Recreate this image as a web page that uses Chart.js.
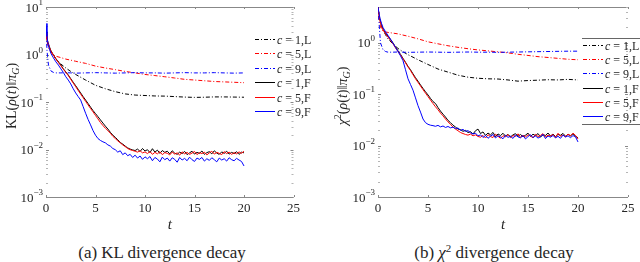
<!DOCTYPE html>
<html>
<head>
<meta charset="utf-8">
<script src="https://cdn.jsdelivr.net/npm/chart.js@4"></script>
<style>
  body { margin:0; background:#fff; width:640px; height:262px; position:relative; overflow:hidden; font-family:"Liberation Serif", serif; color:#262626; }
  canvas { position:absolute; top:0; }
  #c1 { left:0; }
  #c2 { left:320px; }
  .cap { position:absolute; top:242px; height:22px; font-size:17px; line-height:22px; text-align:center; white-space:nowrap; }
  .cap .sup { font-size:11px; position:relative; top:-6px; }
</style>
</head>
<body>
<canvas id="c1" width="320" height="236"></canvas>
<canvas id="c2" width="320" height="236"></canvas>
<div class="cap" style="left:42px;width:240px">(a) KL divergence decay</div>
<div class="cap" style="left:374px;width:240px">(b) <i>χ</i><span class="sup">2</span> divergence decay</div>
<script>
// time grids
const tL = [0, 0.1, 0.25, 0.5, 0.75, 1, 1.5, 2, 2.5, 3, 4, 5, 6, 7, 8, 9, 10, 11, 12, 13, 14, 15, 16, 17, 18, 19, 20];
const tF = [0, 0.1, 0.2, 0.35, 0.5, 0.75, 1, 1.25, 1.5, 1.75, 2, 2.25, 2.5, 2.75, 3, 3.25, 3.5, 3.75, 4, 4.25, 4.5, 4.75,
  5, 5.25, 5.5, 5.75, 6, 6.25, 6.5, 6.75, 7, 7.25, 7.5, 7.75, 8, 8.25, 8.5, 8.75, 9, 9.25, 9.5, 9.75,
  10, 10.25, 10.5, 10.75, 11, 11.25, 11.5, 11.75, 12, 12.25, 12.5, 12.75, 13, 13.25, 13.5, 13.75, 14, 14.25, 14.5, 14.75,
  15, 15.25, 15.5, 15.75, 16, 16.25, 16.5, 16.75, 17, 17.25, 17.5, 17.75, 18, 18.25, 18.5, 18.75, 19, 19.25, 19.5, 19.75, 20];
const xTicks = [0, 5, 10, 15, 20, 25];

// (a) KL divergence
const klL1 = [3.0, 2.0, 1.5, 1.15, 0.95, 0.8, 0.63, 0.52, 0.44, 0.38, 0.29, 0.225, 0.19, 0.165, 0.148, 0.14, 0.137, 0.134, 0.133, 0.13, 0.127, 0.125, 0.126, 0.128, 0.128, 0.127, 0.126];
const klL5 = [2.8, 1.9, 1.4, 1.1, 0.98, 0.92, 0.86, 0.8, 0.76, 0.72, 0.65, 0.57, 0.52, 0.48, 0.44, 0.41, 0.38, 0.36, 0.34, 0.32, 0.3, 0.29, 0.28, 0.27, 0.265, 0.26, 0.255];
const klL9 = [4.0, 1.2, 0.6, 0.45, 0.42, 0.41, 0.41, 0.415, 0.41, 0.405, 0.41, 0.415, 0.41, 0.405, 0.41, 0.415, 0.41, 0.41, 0.405, 0.41, 0.415, 0.41, 0.41, 0.415, 0.41, 0.405, 0.41];
const klF1 = [3.0, 2.2, 1.8, 1.45, 1.2, 0.98, 0.82, 0.7, 0.6, 0.5, 0.43, 0.37, 0.31, 0.26, 0.22, 0.185, 0.155, 0.13, 0.11, 0.093, 0.078, 0.066,
  0.057, 0.049, 0.042, 0.036, 0.031, 0.027, 0.023, 0.02, 0.018, 0.016, 0.014, 0.013, 0.0118, 0.0108, 0.0102, 0.0098, 0.0095, 0.0102, 0.0091, 0.0105,
  0.0093, 0.0099, 0.0086, 0.0104, 0.0088, 0.0097, 0.0083, 0.0095, 0.0087, 0.0092, 0.0081, 0.0094, 0.0084, 0.0079, 0.0088, 0.0082, 0.0091, 0.0078, 0.0085, 0.0092,
  0.008, 0.0087, 0.0083, 0.0093, 0.0079, 0.0086, 0.009, 0.0081, 0.0094, 0.0084, 0.0079, 0.0089, 0.0083, 0.0092, 0.008, 0.0087, 0.0082, 0.009, 0.0079, 0.0088, 0.0085];
const klF5 = [2.8, 2.1, 1.75, 1.4, 1.18, 0.97, 0.8, 0.68, 0.58, 0.49, 0.42, 0.36, 0.3, 0.25, 0.21, 0.175, 0.147, 0.123, 0.103, 0.087, 0.073, 0.062,
  0.052, 0.044, 0.037, 0.032, 0.028, 0.025, 0.022, 0.019, 0.017, 0.0152, 0.0138, 0.0125, 0.0115, 0.0105, 0.0099, 0.0095, 0.0092, 0.0088, 0.0094, 0.0085,
  0.0089, 0.0082, 0.0091, 0.0079, 0.0087, 0.0081, 0.009, 0.0078, 0.0086, 0.0083, 0.0077, 0.0088, 0.008, 0.0085, 0.0076, 0.0089, 0.0081, 0.0087, 0.0079, 0.0084,
  0.0091, 0.0078, 0.0086, 0.0082, 0.0088, 0.0077, 0.0085, 0.0092, 0.008, 0.0087, 0.0083, 0.0078, 0.009, 0.0082, 0.0088, 0.0079, 0.0086, 0.0081, 0.0089, 0.0083, 0.0092];
const klF9 = [4.5, 2.4, 1.7, 1.3, 1.05, 0.85, 0.7, 0.6, 0.5, 0.42, 0.34, 0.29, 0.24, 0.19, 0.155, 0.13, 0.11, 0.08, 0.058, 0.043, 0.033, 0.025,
  0.02, 0.017, 0.0155, 0.0145, 0.0138, 0.0125, 0.0118, 0.0105, 0.0099, 0.0088, 0.0094, 0.0078, 0.0085, 0.0074, 0.0079, 0.0068, 0.0076, 0.0066, 0.0073, 0.0062,
  0.007, 0.0064, 0.0071, 0.0058, 0.0068, 0.0063, 0.0055, 0.0069, 0.0061, 0.0066, 0.0057, 0.0067, 0.0062, 0.0054, 0.0068, 0.006, 0.0065, 0.0058, 0.0069, 0.0061,
  0.0056, 0.0066, 0.0062, 0.0068, 0.0057, 0.0064, 0.0059, 0.0067, 0.0061, 0.0055, 0.0066, 0.006, 0.0064, 0.0057, 0.0067, 0.0061, 0.0058, 0.0065, 0.006, 0.0056, 0.0045];

// (b) chi^2 divergence
const chL1 = [5.0, 3.3, 2.4, 1.8, 1.45, 1.2, 0.95, 0.78, 0.67, 0.59, 0.47, 0.38, 0.31, 0.27, 0.235, 0.215, 0.205, 0.2, 0.198, 0.19, 0.18, 0.185, 0.188, 0.192, 0.19, 0.195, 0.19];
const chL5 = [5.0, 3.0, 2.0, 1.7, 1.64, 1.6, 1.55, 1.5, 1.42, 1.35, 1.2, 1.05, 0.96, 0.88, 0.82, 0.77, 0.73, 0.7, 0.67, 0.64, 0.6, 0.57, 0.54, 0.52, 0.5, 0.48, 0.47];
const chL9 = [5.0, 2.5, 1.0, 0.74, 0.68, 0.66, 0.66, 0.665, 0.66, 0.655, 0.66, 0.665, 0.66, 0.655, 0.66, 0.665, 0.66, 0.66, 0.655, 0.66, 0.665, 0.67, 0.675, 0.68, 0.685, 0.69, 0.69];
const chF1 = [5.0, 3.6, 2.8, 2.2, 1.85, 1.55, 1.35, 1.17, 1.0, 0.83, 0.7, 0.6, 0.5, 0.42, 0.35, 0.3, 0.25, 0.21, 0.18, 0.152, 0.13, 0.112,
  0.097, 0.083, 0.072, 0.066, 0.055, 0.047, 0.041, 0.036, 0.031, 0.028, 0.025, 0.023, 0.021, 0.0205, 0.019, 0.0198, 0.018, 0.0187, 0.0168, 0.0195,
  0.021, 0.0172, 0.0185, 0.0158, 0.0176, 0.0162, 0.0181, 0.015, 0.0169, 0.0157, 0.0174, 0.0153, 0.0166, 0.0148, 0.0162, 0.0171, 0.0152, 0.0165, 0.0149, 0.016,
  0.0175, 0.0151, 0.0167, 0.0156, 0.0172, 0.0147, 0.0163, 0.0158, 0.0176, 0.0154, 0.0168, 0.015, 0.0165, 0.0159, 0.0173, 0.0152, 0.0166, 0.0155, 0.017, 0.0153, 0.0142];
const chF5 = [5.0, 3.4, 2.7, 2.1, 1.8, 1.5, 1.3, 1.12, 0.96, 0.8, 0.68, 0.58, 0.49, 0.41, 0.34, 0.29, 0.24, 0.2, 0.17, 0.145, 0.123, 0.105,
  0.09, 0.077, 0.066, 0.057, 0.05, 0.043, 0.038, 0.033, 0.029, 0.026, 0.023, 0.021, 0.0195, 0.018, 0.0172, 0.0165, 0.016, 0.0168, 0.0155, 0.0162,
  0.0151, 0.0146, 0.0158, 0.0141, 0.0163, 0.015, 0.0144, 0.0167, 0.0152, 0.0139, 0.0156, 0.0149, 0.0164, 0.0143, 0.0157, 0.0151, 0.017, 0.0145, 0.0159, 0.0148,
  0.0162, 0.0154, 0.0142, 0.0166, 0.015, 0.0158, 0.0171, 0.0147, 0.016, 0.0153, 0.0165, 0.0144, 0.0174, 0.0152, 0.0161, 0.0149, 0.0168, 0.0155, 0.0175, 0.0158, 0.0135];
const chF9 = [5.0, 3.8, 3.0, 2.4, 2.0, 1.65, 1.4, 1.18, 0.98, 0.82, 0.68, 0.56, 0.45, 0.3, 0.2, 0.155, 0.12, 0.085, 0.06, 0.045, 0.033, 0.028,
  0.026, 0.025, 0.0245, 0.0238, 0.0248, 0.0232, 0.0241, 0.0226, 0.0236, 0.0222, 0.0229, 0.0215, 0.0221, 0.0198, 0.0207, 0.0189, 0.0196, 0.0178, 0.0168, 0.0175,
  0.0155, 0.0162, 0.0144, 0.0158, 0.0139, 0.0153, 0.0165, 0.0141, 0.0156, 0.0147, 0.0136, 0.0159, 0.0145, 0.0152, 0.0138, 0.0161, 0.0148, 0.0142, 0.0157, 0.0135,
  0.015, 0.0163, 0.0143, 0.0155, 0.014, 0.0149, 0.0166, 0.0137, 0.0154, 0.0146, 0.0158, 0.0141, 0.0152, 0.0139, 0.016, 0.0147, 0.0155, 0.0143, 0.0157, 0.0148, 0.0118];

const legendLabels = ['1,L', '5,L', '9,L', '1,F', '5,F', '9,F'];
const colors = ['#000000', '#ff0000', '#0000ff', '#000000', '#ff0000', '#0000ff'];
const dashDot = [4, 2, 1, 2];
const serif = '"Liberation Serif", serif';
const textColor = '#262626';

function makeDatasets(series) {
  return series.map((vals, i) => {
    const t = i < 3 ? tL : tF;
    return {
      label: 'c = ' + legendLabels[i],
      data: t.map((x, k) => ({ x: x, y: vals[k] })),
      borderColor: colors[i],
      borderWidth: 1,
      borderDash: i < 3 ? dashDot : [],
      pointRadius: 0,
      tension: 0,
      fill: false,
      order: 6 - i
    };
  });
}

function drawPieces(ctx, pieces, cx, cy) {
  let total = 0;
  pieces.forEach(p => { ctx.font = p.f; p.w = ctx.measureText(p.t).width; total += p.w; });
  let x = cx - total / 2;
  pieces.forEach(p => { ctx.font = p.f; ctx.fillText(p.t, x, cy + (p.dy || 0)); x += p.w; });
}

// axes box, ticks, tick labels, titles and legend drawn MATLAB style
const deco = {
  id: 'deco',
  beforeDatasetsDraw(chart, args, o) {
    const { ctx, chartArea: a, scales: { x, y } } = chart;
    ctx.save();
    ctx.lineWidth = 1;
    ctx.strokeStyle = '#888';
    [a.top, a.bottom].forEach(yy => {
      const py = Math.round(yy) + 0.5;
      ctx.beginPath(); ctx.moveTo(a.left, py); ctx.lineTo(a.right, py); ctx.stroke();
    });
    xTicks.forEach(t => {
      const px = Math.round(x.getPixelForValue(t)) + 0.5;
      ctx.beginPath();
      ctx.moveTo(px, a.bottom); ctx.lineTo(px, a.bottom - 2);
      ctx.moveTo(px, a.top); ctx.lineTo(px, a.top + 2);
      ctx.stroke();
    });
    for (let e = -3; e <= 1; e++) {
      for (let m = 1; m <= 9; m++) {
        const v = m * Math.pow(10, e);
        if (v < y.min * 0.999 || v > y.max * 1.001) continue;
        const py = Math.round(y.getPixelForValue(v)) + 0.5;
        const len = m === 1 ? 3 : 2;
        ctx.strokeStyle = m === 1 ? '#888' : '#b5b5b5';
        ctx.beginPath();
        ctx.moveTo(a.left, py); ctx.lineTo(a.left + len, py);
        ctx.moveTo(a.right, py); ctx.lineTo(a.right - len, py);
        ctx.stroke();
      }
    }
    ctx.restore();
  },
  afterDraw(chart, args, o) {
    const { ctx, chartArea: a, scales: { x, y } } = chart;
    ctx.save();
    ctx.fillStyle = textColor;
    ctx.textBaseline = 'alphabetic';
    ctx.textAlign = 'left';
    // y tick labels 10^e
    o.exps.forEach(e => {
      const py = y.getPixelForValue(Math.pow(10, e));
      const es = e < 0 ? '\u2212' + (-e) : String(e);
      ctx.font = '9px ' + serif;
      const we = ctx.measureText(es).width;
      ctx.font = '13px ' + serif;
      const wb = ctx.measureText('10').width;
      const xr = a.left - 3;
      ctx.fillText('10', xr - we - wb, py + 4.5);
      ctx.font = '9px ' + serif;
      ctx.fillText(es, xr - we, py - 2);
    });
    // x tick labels and title
    ctx.textAlign = 'center';
    ctx.font = '13px ' + serif;
    xTicks.forEach(t => {
      ctx.fillText(String(t), x.getPixelForValue(t), a.bottom + 15);
    });
    ctx.font = 'italic 15px ' + serif;
    ctx.fillText('t', (a.left + a.right) / 2, a.bottom + 32);
    ctx.textAlign = 'left';
    // y title
    ctx.save();
    ctx.translate(o.titleX, o.titleY);
    ctx.rotate(-Math.PI / 2);
    const n = '14px ' + serif, it = 'italic 14px ' + serif, sm = 'italic 10px ' + serif;
    const head = o.kind === 'kl'
      ? [{ t: 'KL', f: n }]
      : [{ t: '\u03c7', f: it }, { t: '2', f: '10px ' + serif, dy: -6 }];
    drawPieces(ctx, head.concat([
      { t: '(', f: n }, { t: '\u03c1', f: it }, { t: '(', f: n }, { t: 't', f: it },
      { t: ')\u2016', f: n }, { t: '\u03c0', f: it }, { t: 'G', f: sm, dy: 3 }, { t: ')', f: n }
    ]), 0, 5);
    ctx.restore();
    // legend
    legendLabels.forEach((lab, i) => {
      const ly = Math.round(o.legY + i * o.legDy) + 0.5;
      ctx.strokeStyle = colors[i];
      ctx.lineWidth = 1;
      ctx.setLineDash(i < 3 ? dashDot : []);
      ctx.beginPath(); ctx.moveTo(o.legX, ly); ctx.lineTo(o.legX + 20, ly); ctx.stroke();
      ctx.setLineDash([]);
      ctx.fillStyle = textColor;
      ctx.font = 'italic 12px ' + serif;
      ctx.fillText('c', o.legX + 22, ly + 4);
      const wc = ctx.measureText('c').width;
      ctx.font = '12px ' + serif;
      ctx.fillText(' = ' + lab, o.legX + 22 + wc, ly + 4);
    });
    if (o.legBox) {
      ctx.strokeStyle = '#666';
      [o.boxTop, o.boxBottom].forEach(by => {
        ctx.beginPath(); ctx.moveTo(o.legX - 1, by + 0.5); ctx.lineTo(chart.width, by + 0.5); ctx.stroke();
      });
    }
    ctx.restore();
  }
};

function makeChart(id, series, yMax, yWidth, padRight, decoOpts) {
  return new Chart(document.getElementById(id), {
    type: 'line',
    data: { datasets: makeDatasets(series) },
    plugins: [deco],
    options: {
      responsive: false,
      animation: false,
      devicePixelRatio: 1,
      layout: { padding: { left: 0, right: padRight, top: 7, bottom: 0 } },
      plugins: { legend: { display: false }, tooltip: { enabled: false }, deco: decoOpts },
      scales: {
        x: {
          type: 'linear', min: 0, max: 25,
          grid: { display: false }, border: { display: false },
          ticks: { display: false, stepSize: 5 },
          afterFit: s => { s.height = 39; }
        },
        y: {
          type: 'logarithmic', min: 0.001, max: yMax,
          grid: { display: false }, border: { display: false },
          ticks: { display: false },
          afterFit: s => { s.width = yWidth; }
        }
      }
    }
  });
}

makeChart('c1', [klL1, klL5, klL9, klF1, klF5, klF9], 10, 46, 26.5,
  { kind: 'kl', exps: [1, 0, -1, -2, -3], titleX: 11, titleY: 96, legX: 255, legY: 39, legDy: 14.4, legBox: false });
makeChart('c2', [chL1, chL5, chL9, chF1, chF5, chF9], 5, 58, 12,
  { kind: 'chi', exps: [0, -1, -2, -3], titleX: 22, titleY: 96, legX: 263, legY: 45, legDy: 14.2, legBox: true, boxTop: 38, boxBottom: 124 });
</script>
</body>
</html>
